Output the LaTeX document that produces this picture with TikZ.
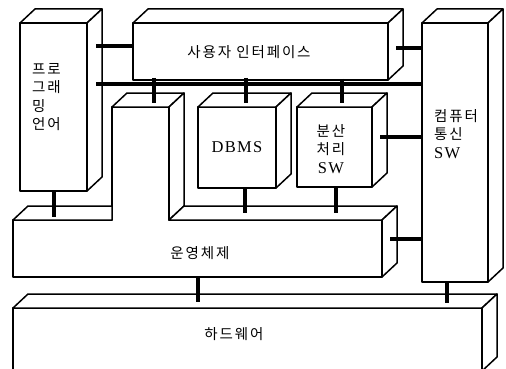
\documentclass[tikz,border=0pt]{standalone}
\usepackage{fontspec}
\setmainfont{Liberation Serif}
\newfontfamily\kr[LetterSpace=13]{Noto Sans CJK KR}
\newfontfamily\lat[LetterSpace=8]{Liberation Serif}
\newcommand{\swtext}{{\lat\fontsize{16.5pt}{18.5pt}\selectfont SW}}
\usetikzlibrary{calc}
\tikzset{
  edge/.style={line width=1.5pt, line join=round},
  facefill/.style={edge, draw=black, fill=white},
  bus/.style={line width=3.8pt},
  lbl/.style={inner sep=0pt, font=\kr\fontsize{14.5pt}{18.5pt}\selectfont},
  hid/.style={inner sep=0pt, outer sep=0pt, draw=none}
}
% \cube{name}{x1}{y1}{x2}{y2}
\newcommand{\cube}[5]{%
  \node[facefill, inner sep=0pt, outer sep=0pt, minimum width={(#4-#2)*1pt}, minimum height={(#5-#3)*1pt}] (#1) at ({(#2+#4)/2},{(#3+#5)/2}) {};
  \draw[facefill] (#1.north west) -- ++(15,-14) -- ($(#1.north east)+(15,-14)$) -- (#1.north east) -- cycle;
  \draw[facefill] (#1.north east) -- ++(15,-14) -- ($(#1.south east)+(15,-14)$) -- (#1.south east) -- cycle;
}
\begin{document}
\begin{tikzpicture}[x=1pt,y=-1pt]
\useasboundingbox (0,0) rectangle (506,369);
\fill[white] (0,0) rectangle (506,369);

% boxes
\cube{PL}{20}{23}{87}{191}
\cube{UI}{133}{23}{388}{80}
\cube{CC}{422}{23}{488}{282}
\cube{DB}{198}{107}{276}{188}
\cube{DP}{297}{107}{372}{187}

% operating system (L-shaped block)
\node[hid, minimum width=369pt, minimum height=57pt] (OS) at (197.5,248.5) {};
\node[hid, minimum width=57pt, minimum height=113pt] (OC) at (140.5,163.5) {};
\draw[facefill] (OS.north west) -- (OC.south west) -- (OC.north west) -- (OC.north east) -- (OC.south east) -- (OS.north east) -- (OS.south east) -- (OS.south west) -- cycle;
\draw[facefill] (OS.north west) -- ++(15,-14) -- ($(OC.south west)+(0,-14)$) -- (OC.south west) -- cycle;
\draw[facefill] (OC.north west) -- ++(15,-14) -- ($(OC.north east)+(15,-14)$) -- (OC.north east) -- cycle;
\draw[facefill] (OC.north east) -- ++(15,-14) -- ($(OC.south east)+(15,-14)$) -- (OC.south east) -- cycle;
\draw[facefill] (OC.south east) -- ++(15,-14) -- ($(OS.north east)+(15,-14)$) -- (OS.north east) -- cycle;
\draw[facefill] (OS.north east) -- ++(15,-14) -- ($(OS.south east)+(15,-14)$) -- (OS.south east) -- cycle;

% hardware
\node[facefill, inner sep=0pt, outer sep=0pt, minimum width=469pt, minimum height=63pt] (HW) at (247.5,339.5) {};
\draw[facefill] (HW.north west) -- ++(15,-14) -- ($(HW.north east)+(15,-14)$) -- (HW.north east) -- cycle;
\draw[facefill] (HW.north east) -- ++(15,-14) -- ($(HW.south east)+(15,-14)$) -- (HW.south east) -- cycle;

% labels
\node[lbl, align=left, anchor=north west] (tPL) at (32,63) {프로\\그래\\밍\\언어};
\node[lbl] (tUI) at (249,52) {사용자 인터페이스};
\node[lbl, align=left, anchor=north west] (tCC) at (434,109) {컴퓨터\\통신\\\swtext};
\node[inner sep=0pt, font=\lat\fontsize{16.5pt}{18pt}\selectfont] (tDB) at (237,147) {DBMS};
\node[lbl, align=center, anchor=north] (tDP) at (331,124) {분산\\처리\\\swtext};
\node[lbl] (tOS) at (200,253) {운영체제};
\node[lbl] (tHW) at (234,334) {하드웨어};

% connectors
\coordinate (b1) at (96,46);
\coordinate (b2) at (96,84);
\draw[bus] (b1) -- (b1 -| UI.west);
\draw[bus] (b2) -- (b2 -| CC.west);
\draw[bus] (154,78) -- (154,103);
\draw[bus] (246,78) -- (246,103);
\draw[bus] (342,79) -- (342,103);
\draw[bus] (396,48) -- (422,48);
\draw[bus] (380,137) -- (422,137);
\draw[bus] (390,239) -- (422,239);
\draw[bus] (54,190) -- (54,217);
\draw[bus] (245,187) -- (245,213);
\draw[bus] (336,186) -- (336,213);
\draw[bus] (198,276) -- (198,302);
\draw[bus] (447,281) -- (447,303);
\end{tikzpicture}
\end{document}
